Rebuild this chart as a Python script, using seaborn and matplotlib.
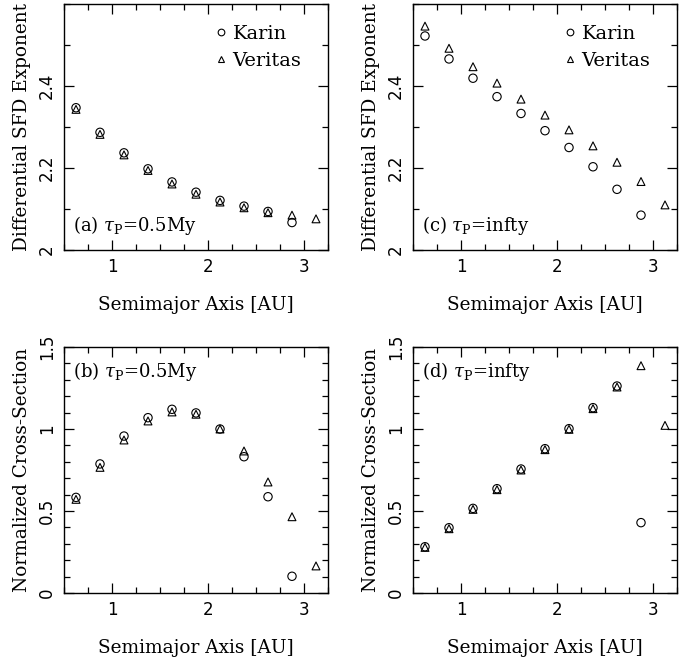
import matplotlib
matplotlib.use("Agg")
import matplotlib.pyplot as plt
import seaborn as sns
from matplotlib.lines import Line2D
from matplotlib.ticker import FixedLocator, MultipleLocator

# semimajor axis of the bins [AU]
axis_au = [0.625, 0.875, 1.125, 1.375, 1.625, 1.875, 2.125, 2.375, 2.625, 2.875, 3.125]

# (a) SFD exponent, tau_P = 0.5 My
karin_a = [2.347, 2.287, 2.237, 2.198, 2.166, 2.141, 2.121, 2.107, 2.094, 2.067]
veritas_a = [2.343, 2.282, 2.232, 2.194, 2.161, 2.136, 2.117, 2.103, 2.091, 2.085, 2.076]

# (c) SFD exponent, tau_P = infty
karin_c = [2.522, 2.466, 2.419, 2.374, 2.333, 2.291, 2.250, 2.203, 2.148, 2.085]
veritas_c = [2.546, 2.492, 2.447, 2.407, 2.368, 2.329, 2.293, 2.254, 2.214, 2.167, 2.110]

# (b) normalized cross-section, tau_P = 0.5 My
karin_b = [0.583, 0.787, 0.957, 1.069, 1.120, 1.098, 1.000, 0.831, 0.587, 0.102]
veritas_b = [0.571, 0.766, 0.933, 1.049, 1.104, 1.090, 1.000, 0.866, 0.677, 0.465, 0.165]

# (d) normalized cross-section, tau_P = infty
karin_d = [0.282, 0.398, 0.516, 0.636, 0.756, 0.880, 1.002, 1.130, 1.262, 0.429]
veritas_d = [0.278, 0.392, 0.510, 0.630, 0.750, 0.874, 0.998, 1.124, 1.256, 1.386, 1.022]

sns.set_style("ticks")
plt.rcParams["font.family"] = ["DejaVu Serif"]
plt.rcParams["mathtext.fontset"] = "dejavuserif"
plt.rcParams["text.color"] = "black"
plt.rcParams["axes.labelcolor"] = "black"
plt.rcParams["xtick.color"] = "black"
plt.rcParams["ytick.color"] = "black"

fig = plt.figure(figsize=(6.92, 6.61), dpi=100)

W, H = 692.0, 661.0
def box(x0, y0, x1, y1):
    return [x0 / W, 1 - y1 / H, (x1 - x0) / W, (y1 - y0) / H]

panels = [
    dict(pos=box(64, 4, 328, 250), karin=karin_a, veritas=veritas_a, tag=r"(a) $\tau_{\rm P}$=0.5My",
         ylab="Differential SFD Exponent", ylim=(2.0, 2.6), yt=[2.0, 2.2, 2.4], ytl=["2", "2.2", "2.4"],
         legend=True, tagpos=(0.035, 0.1)),
    dict(pos=box(413, 4, 677, 250), karin=karin_c, veritas=veritas_c, tag=r"(c) $\tau_{\rm P}$=infty",
         ylab="Differential SFD Exponent", ylim=(2.0, 2.6), yt=[2.0, 2.2, 2.4], ytl=["2", "2.2", "2.4"],
         legend=True, tagpos=(0.035, 0.1)),
    dict(pos=box(64, 347, 328, 593), karin=karin_b, veritas=veritas_b, tag=r"(b) $\tau_{\rm P}$=0.5My",
         ylab="Normalized Cross-Section", ylim=(0.0, 1.5), yt=[0, 0.5, 1.0, 1.5], ytl=["0", "0.5", "1", "1.5"],
         legend=False, tagpos=(0.035, 0.9)),
    dict(pos=box(413, 347, 677, 593), karin=karin_d, veritas=veritas_d, tag=r"(d) $\tau_{\rm P}$=infty",
         ylab="Normalized Cross-Section", ylim=(0.0, 1.5), yt=[0, 0.5, 1.0, 1.5], ytl=["0", "0.5", "1", "1.5"],
         legend=False, tagpos=(0.035, 0.9)),
]

for p in panels:
    ax = fig.add_axes(p["pos"])
    sns.scatterplot(x=axis_au[:len(p["karin"])], y=p["karin"], marker="o", s=36,
                    color="black", facecolors="none", edgecolor="black", linewidth=0.8, ax=ax)
    sns.scatterplot(x=axis_au[:len(p["veritas"])], y=p["veritas"], marker="^", s=32,
                    color="black", facecolors="none", edgecolor="black", linewidth=0.8, ax=ax)
    for c in ax.collections:
        c.set_facecolor("none")

    ax.set_xlim(0.5, 3.25)
    ax.set_ylim(*p["ylim"])
    ax.xaxis.set_major_locator(FixedLocator([1, 2, 3]))
    ax.xaxis.set_minor_locator(MultipleLocator(0.25))
    ax.set_xticklabels(["1", "2", "3"], family="DejaVu Sans", fontsize=12)
    ax.yaxis.set_major_locator(FixedLocator(p["yt"]))
    ax.yaxis.set_minor_locator(MultipleLocator(0.1))
    ax.set_yticklabels(p["ytl"], family="DejaVu Sans", fontsize=12, rotation=90, va="center")

    ax.tick_params(which="both", direction="in", top=True, right=True, width=0.9, colors="black")
    ax.tick_params(which="major", length=7, pad=6)
    ax.tick_params(which="minor", length=4)
    for s in ax.spines.values():
        s.set_linewidth(1.0)
        s.set_color("black")

    ax.set_xlabel("Semimajor Axis [AU]", fontsize=13.3, labelpad=14)
    ax.set_ylabel(p["ylab"], fontsize=13.3, labelpad=5)
    ax.text(p["tagpos"][0], p["tagpos"][1], p["tag"], transform=ax.transAxes,
            fontsize=13, va="center", ha="left")

    if p["legend"]:
        handles = [
            Line2D([], [], ls="none", marker="o", mfc="none", mec="black", mew=0.8, ms=4.8, label="Karin"),
            Line2D([], [], ls="none", marker="^", mfc="none", mec="black", mew=0.8, ms=4.8, label="Veritas"),
        ]
        ax.legend(handles=handles, loc="upper left", bbox_to_anchor=(0.535, 0.955), frameon=False,
                  fontsize=14, handlelength=0.6, handletextpad=0.3, labelspacing=0.45, borderpad=0)

fig.savefig("out.png", dpi=100)
